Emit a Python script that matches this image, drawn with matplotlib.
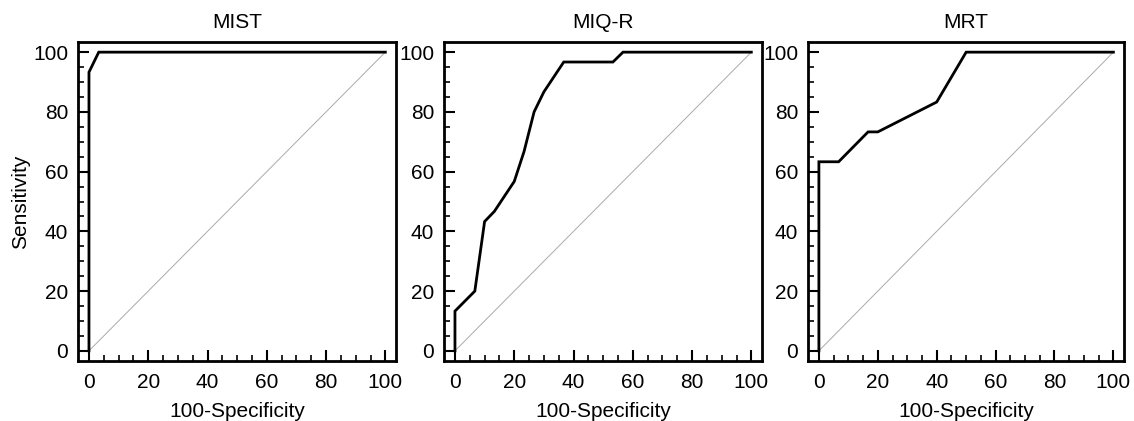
import matplotlib
matplotlib.use("Agg")
import matplotlib.pyplot as plt
from matplotlib.ticker import MultipleLocator

plt.rcParams['font.family'] = ['Liberation Sans', 'DejaVu Sans']

titles = ["MIST", "MIQ-R", "MRT"]

mist_x = [0, 0, 3.3, 100]
mist_y = [0, 93.3, 100, 100]

miqr_x = [0, 0, 6.7, 10, 13.3, 20, 23.3, 26.7, 30, 36.7, 53.3, 56.7, 100]
miqr_y = [0, 13.3, 20, 43.3, 46.7, 56.7, 66.7, 80, 86.7, 96.7, 96.7, 100, 100]

mrt_x = [0, 0, 6.7, 16.7, 20, 40, 50, 100]
mrt_y = [0, 63.3, 63.3, 73.3, 73.3, 83.3, 100, 100]

curves = [(mist_x, mist_y), (miqr_x, miqr_y), (mrt_x, mrt_y)]
ticks = [0, 20, 40, 60, 80, 100]

W, H = 1134, 421
fig = plt.figure(figsize=(W / 100, H / 100), dpi=100)

frames = [(78, 396), (444, 762), (808, 1124)]
top, bottom = 42, 361

for i, ((l, r), title, (cx, cy)) in enumerate(zip(frames, titles, curves)):
    ax = fig.add_axes([l / W, 1 - bottom / H, (r - l) / W, (bottom - top) / H])
    ax.plot([0, 100], [0, 100], color='#aaaaaa', lw=0.7)
    ax.plot(cx, cy, color='black', lw=2.0, solid_joinstyle='miter')
    ax.set_xlim(-3.7, 103.6)
    ax.set_ylim(-3.4, 103.4)
    ax.set_xticks(ticks)
    ax.set_yticks(ticks)
    ax.xaxis.set_minor_locator(MultipleLocator(5))
    ax.yaxis.set_minor_locator(MultipleLocator(5))
    ax.tick_params(which='major', direction='in', length=8, width=1.5,
                   labelsize=15, pad=7, top=False, right=False)
    ax.tick_params(which='minor', direction='in', length=4, width=1.2,
                   top=False, right=False)
    ax.tick_params(axis='x', which='major', pad=9)
    for s in ax.spines.values():
        s.set_linewidth(2.0)
    ax.set_title(title, fontsize=15, pad=10)
    ax.set_xlabel("100-Specificity", fontsize=15, labelpad=7)
    if i == 0:
        ax.set_ylabel("Sensitivity", fontsize=15, labelpad=2)

fig.savefig("out.png", dpi=100)
